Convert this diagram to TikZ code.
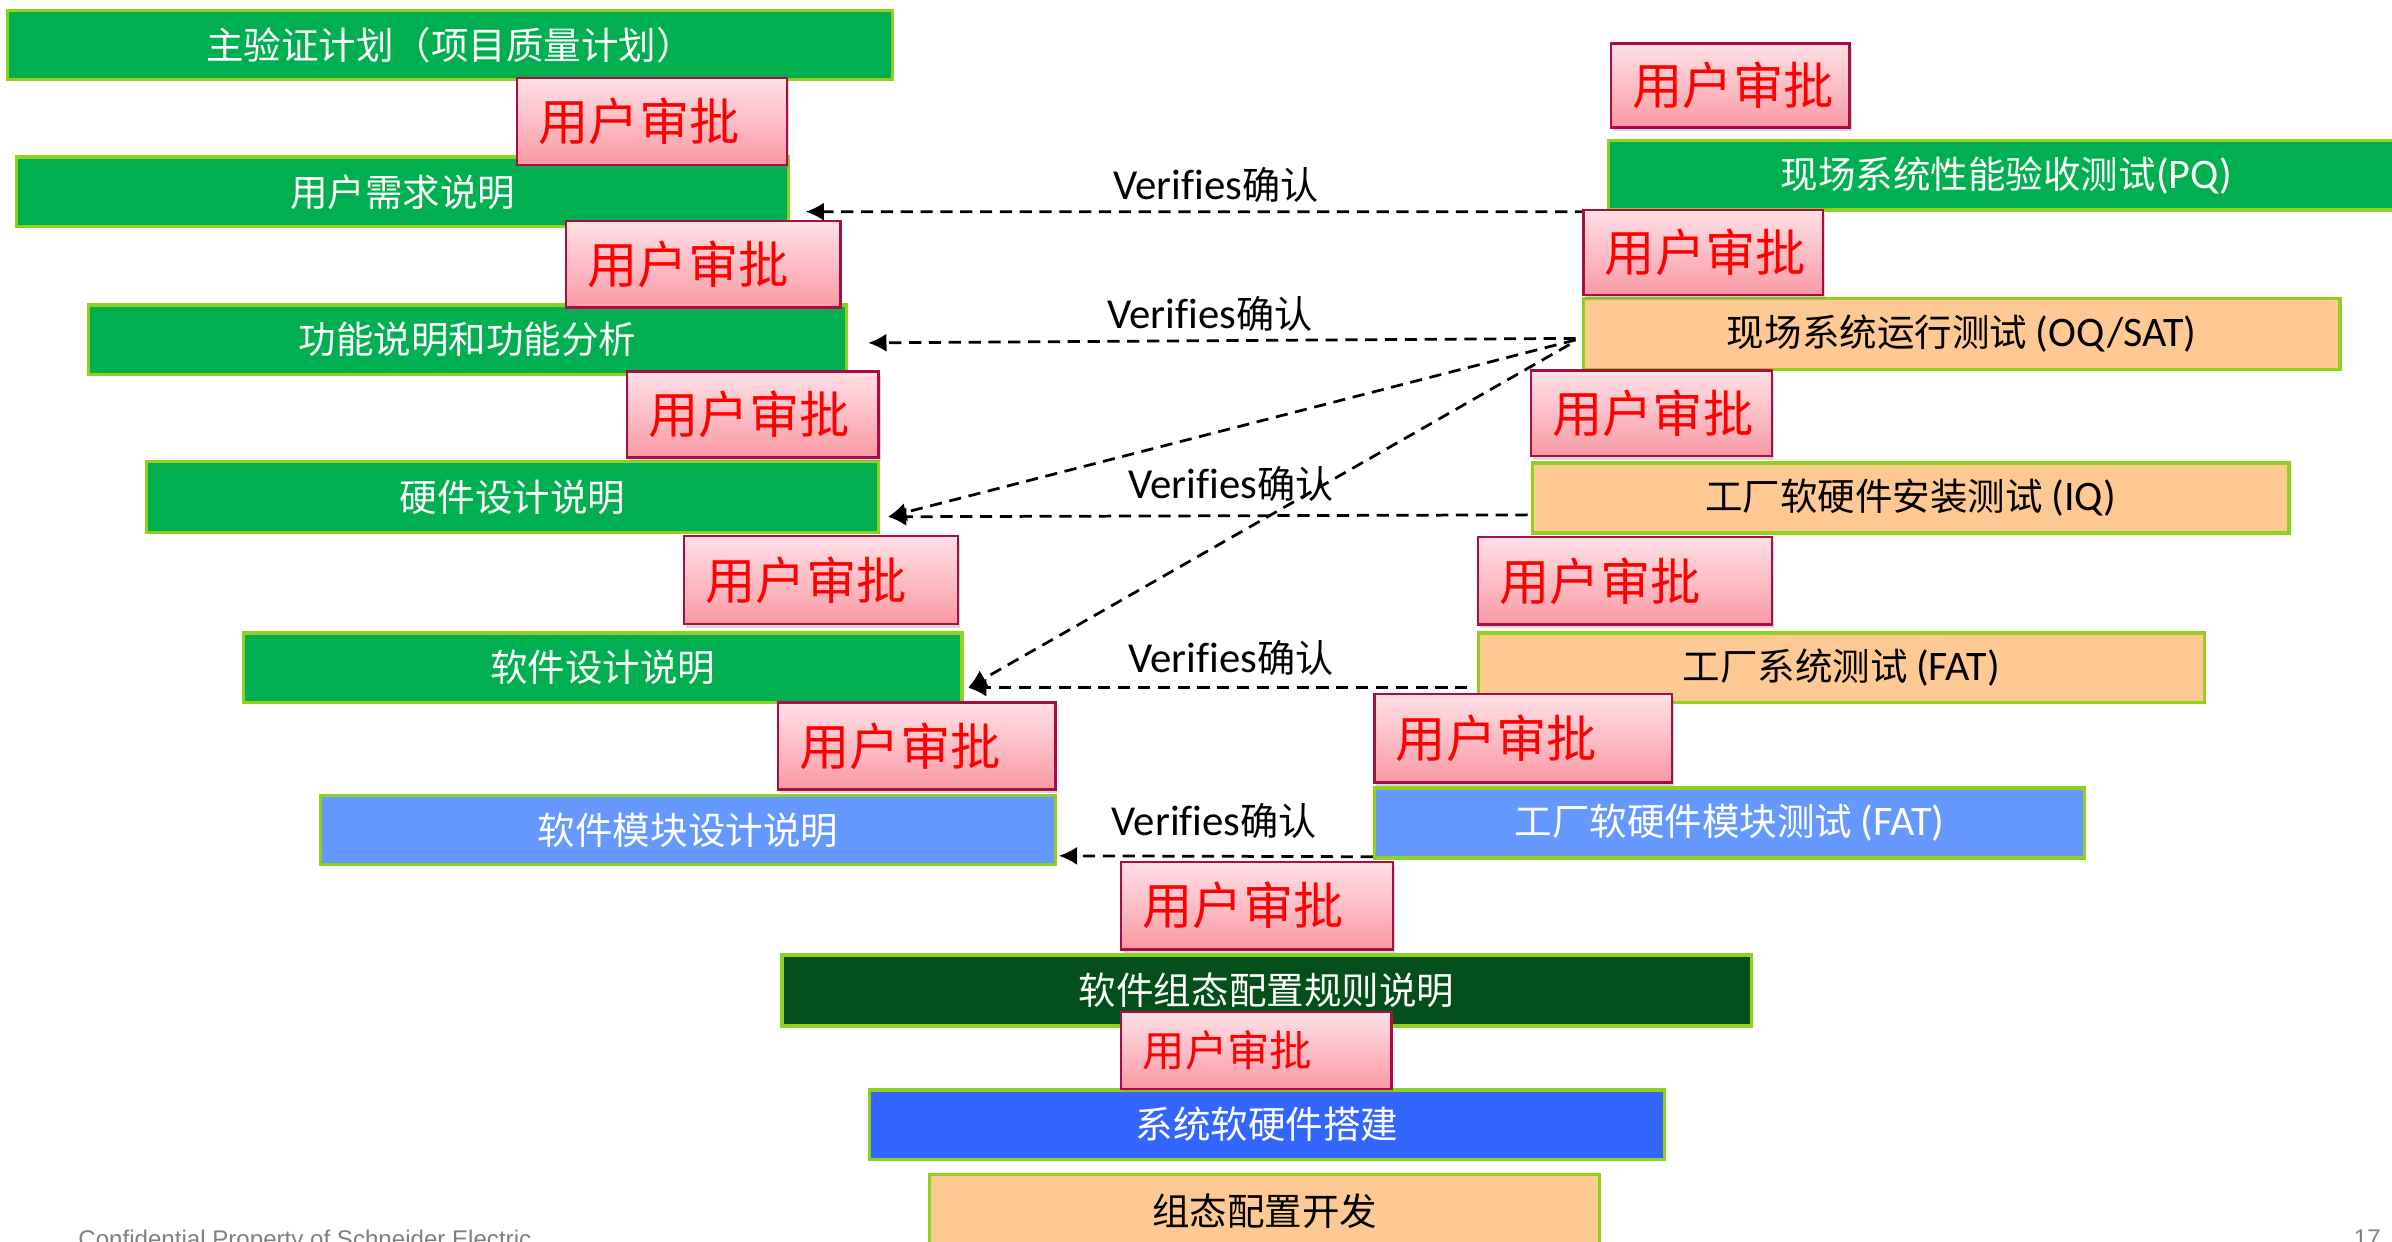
\documentclass[tikz,border=0pt]{standalone}
\usepackage{fontspec}
\setmainfont{Noto Sans CJK SC}
\newfontfamily\lat[Scale=1.12,Ligatures=NoCommon]{Carlito}
\newfontfamily\ftrfont{Liberation Sans}
\usetikzlibrary{arrows.meta,shadows,calc}
\definecolor{vgreen}{HTML}{00B050}
\definecolor{vorange}{HTML}{FFC993}
\definecolor{vlblue}{HTML}{6699FF}
\definecolor{vblue}{HTML}{3366FF}
\definecolor{vdgreen}{HTML}{034F19}
\definecolor{vlime}{HTML}{8ED21E}
\definecolor{pborder}{HTML}{A80E45}
\definecolor{ptop}{HTML}{FFE0E6}
\definecolor{pbot}{HTML}{F99AA4}
\definecolor{ftrgray}{HTML}{7F7F7F}
\tikzset{
  bx/.style={draw=vlime, line width=1.1pt, inner sep=0pt, text=white,
    font=\fontsize{12.3pt}{14pt}\selectfont},
  gbox/.style={bx, fill=vgreen},
  obox/.style={bx, fill=vorange, text=black},
  lbbox/.style={bx, fill=vlblue},
  bbox/.style={bx, fill=vblue},
  dbox/.style={bx, fill=vdgreen},
  pbox/.style={draw=pborder, line width=0.8pt, top color=ptop, bottom color=pbot,
    text=red, inner xsep=7pt, inner ysep=0pt, align=left,
    drop shadow={shadow xshift=0.6pt, shadow yshift=-1.2pt, opacity=0.3}},
  verif/.style={draw=black, dash pattern=on 4pt off 2.5pt, line width=0.9pt,
    -{Latex[length=6pt,width=6pt]}},
  lbl/.style={font=\fontsize{12.5pt}{14pt}\selectfont, inner sep=0pt},
  ftr/.style={font=\ftrfont\fontsize{7.9pt}{9pt}\selectfont, text=ftrgray, inner sep=0pt},
}
% style, name, x1, y1, x2, y2, text
\newcommand\mkbox[7]{%
  \pgfmathsetmacro\mbw{(#5-#3)*0.5}%
  \pgfmathsetmacro\mbh{(#6-#4)*0.5}%
  \node[#1, minimum width=\mbw pt, minimum height=\mbh pt] (#2) at ({(#3+#5)/2},{(#4+#6)/2}) {#7};}
% name, x1, y1, x2, y2, font size
\newcommand\pkbox[6]{%
  \pgfmathsetmacro\mbw{(#4-#2)*0.5}%
  \pgfmathsetmacro\mbh{(#5-#3)*0.5}%
  \pgfmathsetmacro\mtw{(#4-#2)*0.5-14}%
  \node[pbox, minimum width=\mbw pt, minimum height=\mbh pt, text width=\mtw pt,
    font=\fontsize{#6}{#6}\selectfont] (#1) at ({(#2+#4)/2},{(#3+#5)/2}) {用户审批};}
\begin{document}
\begin{tikzpicture}[x=0.5pt, y=-0.5pt]
\useasboundingbox (0,0) rectangle (1568,814);
\fill[white] (0,0) rectangle (1568,814);

% labels
\node[lbl] (l1) at (797,121) {{\lat Verifies}确认};
\node[lbl] (l2) at (793,206) {{\lat Verifies}确认};
\node[lbl] (l3) at (807,317) {{\lat Verifies}确认};
\node[lbl] (l4) at (807,431) {{\lat Verifies}确认};
\node[lbl] (l5) at (796,538) {{\lat Verifies}确认};

% regular boxes (left)
\mkbox{gbox}{mvp}{5}{7}{585}{52}{主验证计划（项目质量计划）}
\mkbox{gbox}{urs}{11}{103}{517}{148.5}{用户需求说明}
\mkbox{gbox}{fs}{58}{200}{555}{245.5}{功能说明和功能分析}
\mkbox{gbox}{hw}{96}{302.5}{576}{349}{硬件设计说明}
\mkbox{gbox}{sw}{159.5}{415}{630.5}{460.5}{软件设计说明}
\mkbox{lbbox}{smd}{210}{521.5}{692}{566.5}{软件模块设计说明}
% middle
\mkbox{dbox}{dg}{512.5}{626}{1148}{672.5}{软件组态配置规则说明}
\mkbox{bbox}{sys}{570}{714.5}{1091}{760}{系统软硬件搭建}
\mkbox{obox}{cfg}{609.5}{770}{1048.5}{818}{组态配置开发}
% right
\mkbox{gbox}{pq}{1054.5}{92}{1576}{137.7}{现场系统性能验收测试{\lat (PQ)}}
\mkbox{obox}{oq}{1038}{195.6}{1534}{242}{现场系统运行测试 {\lat (OQ/SAT)}}
\mkbox{obox}{iq}{1004.5}{303.5}{1500.5}{349.5}{工厂软硬件安装测试 {\lat (IQ)}}
\mkbox{obox}{fat}{969}{415}{1445}{460.5}{工厂系统测试 {\lat (FAT)}}
\mkbox{lbbox}{mt}{901}{516.6}{1366.5}{562.5}{工厂软硬件模块测试 {\lat (FAT)}}

% connectors
\draw[verif] (pq.south west) -- ($(urs.east)+(10,13)$);
\draw[verif] ($(oq.west)+(-4,3)$) -- ($(fs.east)+(13,2)$);
\draw[verif] ($(oq.west)+(-4,4)$) -- ($(hw.east)+(5,13)$);
\draw[verif] ($(oq.west)+(-8,7)$) -- ($(sw.east)+(3,13)$);
\draw[verif] ($(iq.west)+(-2,11)$) -- ($(hw.east)+(5,13)$);
\draw[verif] ($(fat.west)+(-6,13)$) -- ($(sw.east)+(3,13)$);
\draw[verif] ($(mt.south west)+(0,-2)$) -- ($(smd.east)+(1,17)$);

% approval boxes
\pkbox{p1}{339}{51}{516}{108}{16.5pt}
\pkbox{p2}{371}{145}{551}{201.5}{16.5pt}
\pkbox{p3}{411}{243.5}{576}{300}{16.5pt}
\pkbox{p4}{448.5}{351.5}{628}{409}{16.5pt}
\pkbox{p5}{510}{460.6}{692}{517.5}{16.5pt}
\pkbox{p6}{735}{565}{913}{622.5}{16.5pt}
\pkbox{p7}{735}{663.5}{912}{714}{13.9pt}
\pkbox{r1}{1056}{28.5}{1212.5}{83.5}{16.5pt}
\pkbox{r2}{1038}{137.7}{1195}{193.5}{16.5pt}
\pkbox{r3}{1003.5}{243}{1161.5}{299}{16.5pt}
\pkbox{r4}{969}{352}{1161.5}{409.5}{16.5pt}
\pkbox{r5}{901}{455}{1096}{513}{16.5pt}

% footer
\node[ftr, anchor=base west] (conf) at (51,818) {Confidential Property of Schneider Electric};
\node[ftr, anchor=base east] (pgno) at (1561,817) {17};
\end{tikzpicture}
\end{document}
